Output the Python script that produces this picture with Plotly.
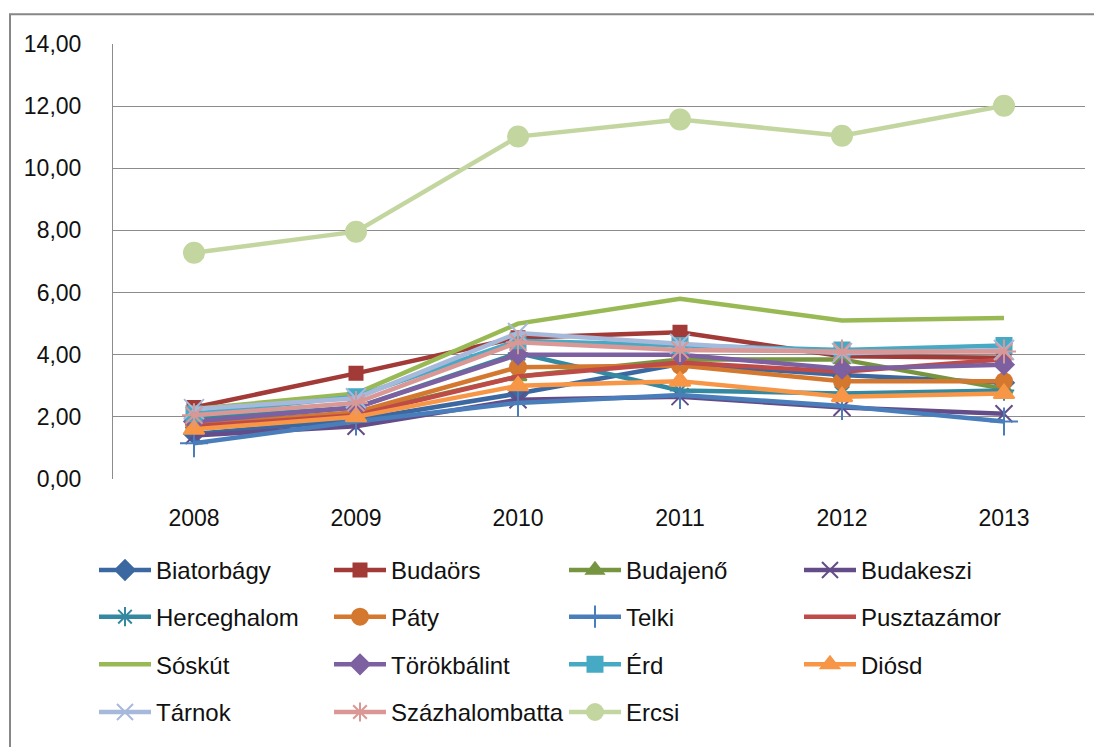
import plotly.graph_objects as go

years = ["2008", "2009", "2010", "2011", "2012", "2013"]

biatorbagy = [1.45, 1.90, 2.75, 3.70, 3.35, 3.10]
budaors = [2.30, 3.40, 4.55, 4.72, 3.95, 3.90]
budajeno = [1.65, 2.10, 3.30, 3.85, 3.85, 2.90]
budakeszi = [1.40, 1.70, 2.55, 2.65, 2.30, 2.10]
herceghalom = [1.95, 2.30, 4.05, 2.85, 2.75, 2.85]
paty = [1.75, 2.15, 3.60, 3.65, 3.15, 3.15]
telki = [1.15, 1.85, 2.45, 2.70, 2.35, 1.85]
pusztazamor = [1.70, 2.05, 3.30, 3.75, 3.45, 3.85]
soskut = [2.25, 2.75, 5.00, 5.80, 5.10, 5.18]
torokbalint = [1.85, 2.30, 4.00, 4.00, 3.55, 3.68]
erd = [2.10, 2.65, 4.45, 4.30, 4.15, 4.30]
diosd = [1.60, 2.00, 3.00, 3.15, 2.65, 2.75]
tarnok = [2.25, 2.60, 4.70, 4.35, 4.05, 4.15]
szazhalombatta = [2.05, 2.45, 4.40, 4.15, 4.10, 4.10]
ercsi = [7.28, 7.96, 11.02, 11.57, 11.05, 12.01]

# name, values, colour, marker symbol, marker size, legend row
series = [
    ("Biatorbágy", biatorbagy, "#3B68A1", "diamond", 15, 1),
    ("Budaörs", budaors, "#A23A37", "square", 13, 1),
    ("Budajenő", budajeno, "#779441", "triangle-up", 15, 1),
    ("Budakeszi", budakeszi, "#634C88", "x-thin-open", 17, 1),
    ("Herceghalom", herceghalom, "#34889F", "asterisk-open", 17, 2),
    ("Páty", paty, "#D4772F", "circle", 16, 2),
    ("Telki", telki, "#4A7EBB", "cross-thin-open", 20, 2),
    ("Pusztazámor", pusztazamor, "#BE4B48", None, 0, 2),
    ("Sóskút", soskut, "#98B954", None, 0, 3),
    ("Törökbálint", torokbalint, "#7D60A0", "diamond", 15, 3),
    ("Érd", erd, "#46AAC5", "square", 15, 3),
    ("Diósd", diosd, "#F79646", "triangle-up", 18, 3),
    ("Tárnok", tarnok, "#A7B9DA", "x-thin-open", 20, 4),
    ("Százhalombatta", szazhalombatta, "#D99795", "asterisk-open", 20, 4),
    ("Ercsi", ercsi, "#C4D6A0", "circle", 20, 4),
]

legend_names = {1: "legend", 2: "legend2", 3: "legend3", 4: "legend4"}

fig = go.Figure()
for name, vals, color, symbol, size, row in series:
    trace = dict(
        x=years,
        y=vals,
        name=name,
        line=dict(color=color, width=4.5),
        legend=legend_names[row],
    )
    if symbol:
        trace["mode"] = "lines+markers"
        trace["marker"] = dict(
            symbol=symbol, size=size, color=color,
            line=dict(color=color, width=2),
        )
    else:
        trace["mode"] = "lines"
    fig.add_trace(go.Scatter(**trace))

# the page puts the figure 8px in from the top-left corner
OFF = 8
W, H = 1102 - OFF, 747 - OFF
# plot area in page pixels: left 113, right 1085, top 44, bottom 482
L, R, T, B = 113, 1085, 44, 482
pw, ph = R - L, B - T


def px_x(p):
    return (p - L) / pw


def px_y(p):
    return (B - p) / ph


legend_font = dict(family="Liberation Sans, Arial", size=24, color="#111111")
legends = {}
row_centers = [574, 621, 669, 717]
for i, cy in enumerate(row_centers, start=1):
    key = "legend" if i == 1 else f"legend{i}"
    legends[key] = dict(
        orientation="h",
        x=px_x(94),
        xanchor="left",
        y=px_y(cy),
        yanchor="middle",
        entrywidth=168,
        entrywidthmode="pixels",
        itemwidth=52,
        font=legend_font,
        bgcolor="rgba(0,0,0,0)",
        itemsizing="trace",
    )

fig.update_layout(
    width=W,
    height=H,
    margin=dict(l=L - OFF, r=W - (R - OFF), t=T - OFF, b=H - (B - OFF)),
    plot_bgcolor="white",
    paper_bgcolor="white",
    separators=", ",
    showlegend=True,
    font=dict(family="Liberation Sans, Arial", size=23, color="#111111"),
    **legends,
)

grid_color = "#8C8C8C"
fig.update_xaxes(
    type="category",
    range=[-0.5, 5.5],
    showgrid=False,
    showline=False,
    zeroline=False,
    ticks="",
    ticklabelstandoff=23,
    tickfont=dict(size=23),
)
fig.update_yaxes(
    range=[0, 14],
    dtick=2,
    tickformat=".2f",
    showgrid=True,
    gridcolor=grid_color,
    gridwidth=1,
    showline=True,
    linecolor=grid_color,
    linewidth=1,
    zeroline=False,
    ticks="",
    ticklabelstandoff=26,
    tickfont=dict(size=23),
)

# outer chart border
fig.add_shape(
    type="rect",
    xref="paper", yref="paper",
    x0=px_x(10), x1=px_x(1104), y0=px_y(770), y1=px_y(14),
    line=dict(color="#878787", width=2),
    fillcolor="rgba(0,0,0,0)",
    layer="below",
)

fig.write_html("out.html")
